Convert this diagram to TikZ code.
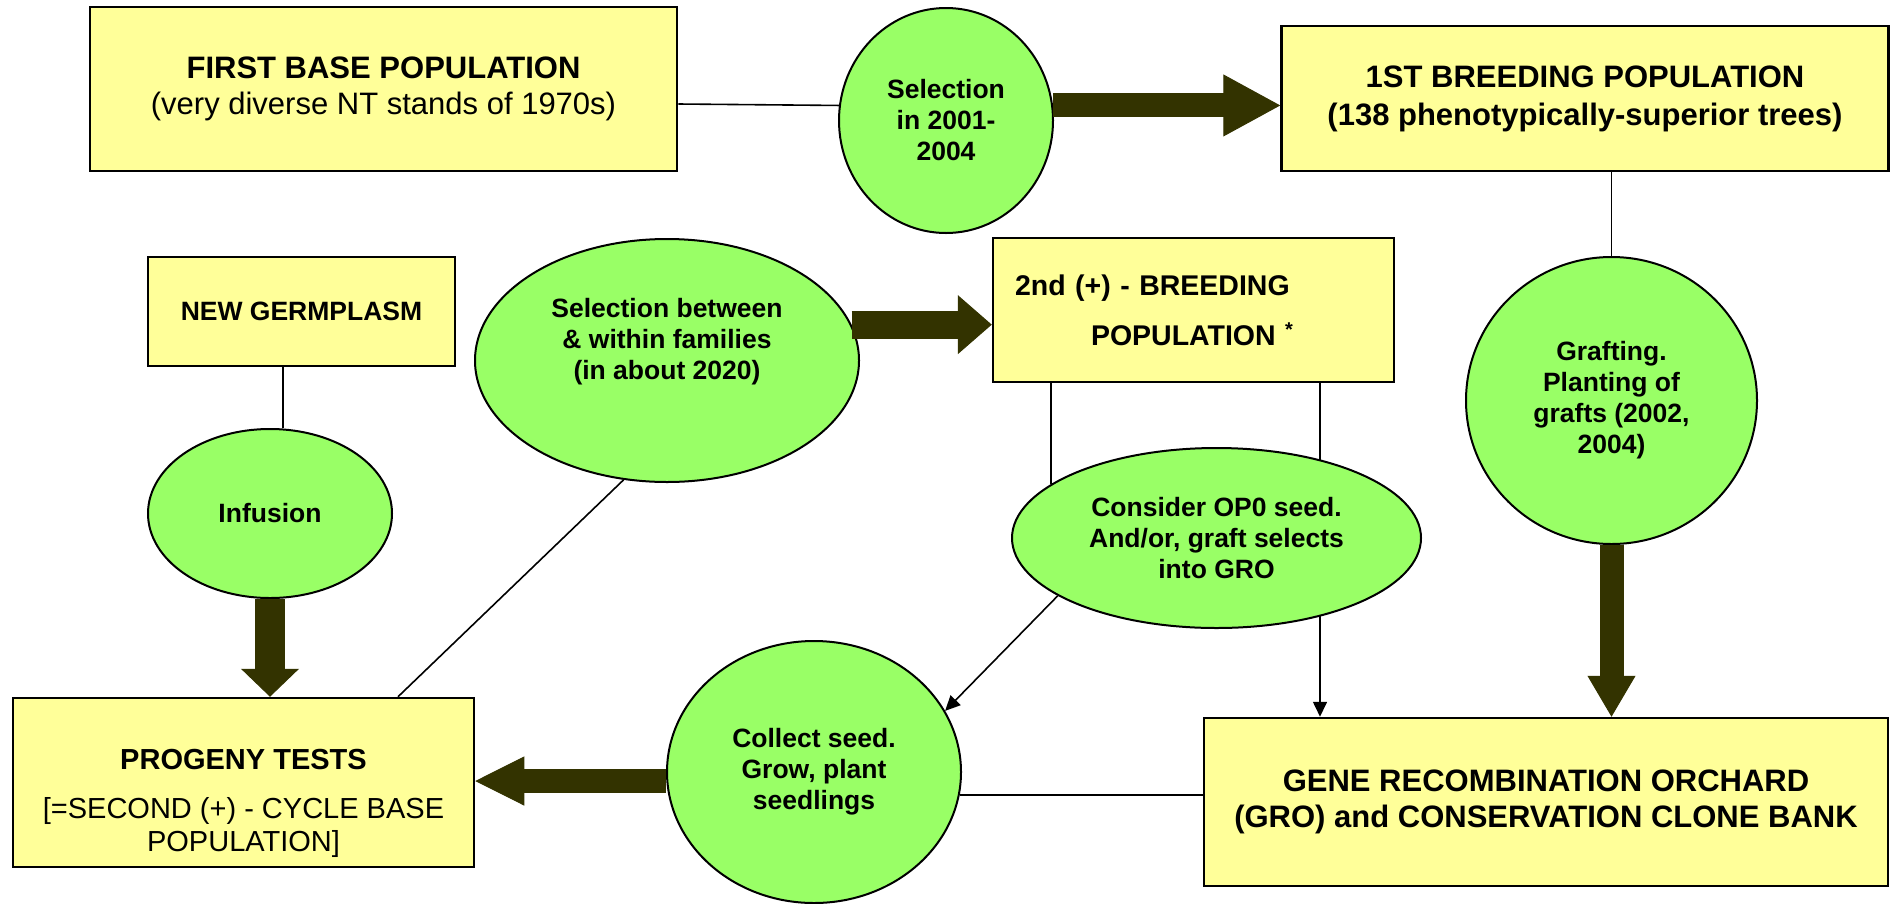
\documentclass[tikz,border=0pt]{standalone}
\usepackage{fontspec}
\setmainfont{Liberation Sans}
\usetikzlibrary{shapes.geometric,arrows.meta}
\definecolor{boxyellow}{HTML}{FFFF99}
\definecolor{ovalgreen}{HTML}{99FF66}
\definecolor{arrowolive}{HTML}{333300}

\begin{document}
\begin{tikzpicture}[x=1pt, y=-1pt,
        box/.style = {draw=black, line width=2.5pt, fill=boxyellow, rectangle, inner sep=0pt, align=center},
        oval/.style = {draw=black, line width=2pt, fill=ovalgreen, ellipse, inner sep=0pt, align=center, font=\fontsize{26.5}{31}\selectfont\bfseries},
        link/.style = {black, line width=1.6pt},
        linkarrow/.style = {link, -{Triangle[length=15pt, width=14pt]}},
        bigarrow/.style = {arrowolive, line width=#1}]
        \useasboundingbox (0,0) rectangle (1890,903);

        \node[box, minimum width=587pt, minimum height=164pt, font=\fontsize{31}{36}\selectfont] (first) at (383.5,89) {\textbf{FIRST BASE POPULATION}\\(very diverse NT stands of 1970s)};
        \node[box, minimum width=607pt, minimum height=145pt, font=\fontsize{31}{38}\selectfont\bfseries] (brd1) at (1585,98.5) {1ST BREEDING POPULATION\\(138 phenotypically-superior trees)};
        \node[box, minimum width=307pt, minimum height=109pt, font=\fontsize{26.5}{31}\selectfont\bfseries] (germ) at (301.5,311.5) {NEW GERMPLASM};
        \node[box, minimum width=401pt, minimum height=144pt, text width=357pt, align=left, font=\fontsize{28.5}{31}\selectfont\bfseries] (brd2) at (1193.5,310) {2nd (+) - BREEDING\\[19pt]\hspace*{76pt}POPULATION \textsuperscript{*}};
        \node[box, minimum width=461pt, minimum height=169pt, font=\fontsize{29}{33}\selectfont] (prog) at (243.5,782.5) {\mbox{}\\[29pt]\textbf{PROGENY TESTS}\\[16pt]{[}=SECOND (+) - CYCLE BASE\\POPULATION{]}};
        \node[box, minimum width=684pt, minimum height=168pt, font=\fontsize{31}{36}\selectfont\bfseries] (gro) at (1546,802) {GENE RECOMBINATION ORCHARD\\(GRO) and CONSERVATION CLONE BANK};

        \coordinate (brdout) at ([xshift=126.5pt]brd2.south);
        \draw[linkarrow] (brdout) -- (brdout |- gro.north);

        \node[oval, minimum width=214pt, minimum height=225pt] (sel1) at (946,120.5) {Selection\\in 2001-\\2004};
        \node[oval, minimum width=244pt, minimum height=169pt] (infu) at (270,513.5) {Infusion};
        \node[oval, minimum width=384pt, minimum height=243pt] (selb) at (667,360.5) {Selection between\\\& within families\\(in about 2020)\\[12pt]\mbox{}};
        \node[oval, minimum width=291pt, minimum height=287pt] (graft) at (1611.5,400.5) {Grafting.\\Planting of\\grafts (2002,\\2004)};
        \node[oval, minimum width=409pt, minimum height=180pt] (cons) at (1216.5,538) {Consider OP0 seed.\\And/or, graft selects\\into GRO};
        \node[oval, minimum width=294pt, minimum height=262pt] (coll) at (814,772) {Collect seed.\\Grow, plant\\seedlings};

        \draw[link] ([yshift=-15pt]first.east) -- (sel1.172);
        \draw[bigarrow=24pt, -{Triangle[length=57pt, width=62pt, line width=1pt]}] (sel1.8) -- (sel1.8 -| brd1.west);
        \draw[link] (graft.north |- brd1.south) -- (graft.north);
        \draw[bigarrow=24pt, -{Triangle[length=41pt, width=48pt, line width=1pt]}] (graft.south) -- (graft.south |- gro.north);
        \coordinate (germout) at ([xshift=13pt]infu.north);
        \draw[link] (germout |- germ.south) -- (germout);
        \draw[bigarrow=30pt, -{Triangle[length=28pt, width=58pt, line width=1pt]}] (infu.south) -- (infu.south |- prog.north);
        \draw[bigarrow=28pt, -{Triangle[length=34pt, width=59pt, line width=1pt]}] (selb.11) -- (selb.11 -| brd2.west);
        \draw[link] ([xshift=154.5pt]prog.north) -- (selb.250);
        \draw[link] (cons.162 |- brd2.south) -- (cons.162);
        \draw[linkarrow] (cons.200) -- (coll.25);
        \coordinate (collout) at ([yshift=-9pt]coll.west);
        \draw[bigarrow=24pt, -{Triangle[length=49pt, width=49pt, line width=1pt]}] (collout) -- (collout -| prog.east);
        \draw[link] (coll.351) -- (coll.351 -| gro.west);

\end{tikzpicture}
\end{document}
